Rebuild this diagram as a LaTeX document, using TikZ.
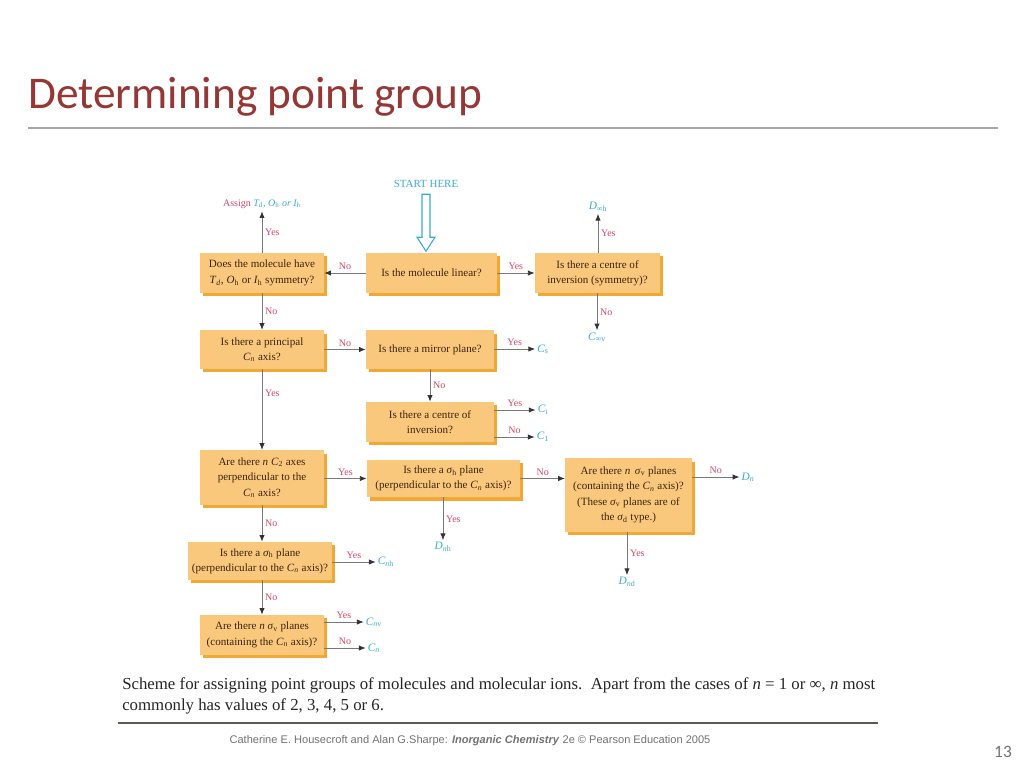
\documentclass[tikz,border=0pt]{standalone}
\usepackage{fontspec}
\setmainfont{Liberation Serif}
\newfontfamily\titlefont{Carlito}
\newfontfamily\footfont{Liberation Sans}
\usetikzlibrary{shapes.geometric, arrows.meta, shadows, positioning}

\definecolor{titlered}{RGB}{149,55,53}
\definecolor{rulegray}{RGB}{166,166,166}
\definecolor{boxfill}{RGB}{250,200,125}
\definecolor{boxedge}{RGB}{242,168,52}
\definecolor{boxtext}{RGB}{60,36,18}
\definecolor{answercol}{RGB}{214,72,104}
\definecolor{groupcol}{RGB}{58,172,212}
\definecolor{linecol}{RGB}{120,120,120}
\definecolor{captionline}{RGB}{88,92,78}

\newcommand{\pg}[2]{\textit{#1}\textsubscript{#2}}

\tikzstyle{box} = [rectangle, fill=boxfill, text=boxtext, align=center, inner sep=1pt, font=\fontsize{8.3}{11.5}\selectfont, general shadow={fill=boxedge, shadow xshift=2pt, shadow yshift=-2.5pt}]
\tikzstyle{answer} = [text=answercol, inner sep=2pt, font=\fontsize{7.5}{9}\selectfont]
\tikzstyle{group} = [text=groupcol, inner sep=1.5pt, font=\fontsize{8.5}{10}\selectfont\itshape]
\tikzstyle{arrow} = [draw=linecol, line width=0.6pt, -{Latex[length=5pt,width=4pt,color=black!80]}]
\tikzstyle{hollow} = [draw=groupcol, line width=0.8pt, fill=white]

\begin{document}
\begin{tikzpicture}[x=0.75pt, y=-0.75pt]
\useasboundingbox (0,0) rectangle (1024,768);
\fill [white] (0,0) rectangle (1024,768);

% title
\node (title) [anchor=base west, inner sep=0pt, text=titlered, font=\titlefont\fontsize{34}{40}\selectfont] at (28,108) {Determining point group};
\draw [rulegray, line width=1.1pt] (28,128) -- (998,128);

% questions
\node (doesTd) [box, minimum width=93pt, minimum height=30pt] at (262,273) {Does the molecule have\\\pg{T}{\textit{d}}, \pg{O}{h} or \pg{I}{h} symmetry?};
\node (linear) [box, minimum width=98pt, minimum height=30pt] at (431.5,273) {Is the molecule linear?};
\node (centreSym) [box, minimum width=94pt, minimum height=30pt] at (597.5,273) {Is there a centre of\\inversion (symmetry)?};
\node (principal) [box, minimum width=93pt, minimum height=29pt] at (262,349.5) {Is there a principal\\\pg{C}{\textit{n}} axis?};
\node (mirror) [box, minimum width=96pt, minimum height=29pt] at (430,349.5) {Is there a mirror plane?};
\node (centreInv) [box, minimum width=96pt, minimum height=30pt] at (430,422) {Is there a centre of\\inversion?};
\node (nCtwo) [box, minimum width=93pt, minimum height=41pt] at (262,477.5) {Are there \textit{n} \pg{C}{2} axes\\perpendicular to the\\\pg{C}{\textit{n}} axis?};
\node (sighA) [box, minimum width=115pt, minimum height=28pt] at (443.5,478.5) {Is there a \pg{σ}{h} plane\\(perpendicular to the \pg{C}{\textit{n}} axis)?};
\node (sigvD) [box, minimum width=95pt, minimum height=55pt] at (628.5,495) {Are there \textit{n}\, \pg{σ}{v} planes\\(containing the \pg{C}{\textit{n}} axis)?\\(These \pg{σ}{v} planes are of\\the \pg{σ}{d} type.)};
\node (sighB) [box, minimum width=108pt, minimum height=28.5pt] at (260,561) {Is there a \pg{σ}{h} plane\\(perpendicular to the \pg{C}{\textit{n}} axis)?};
\node (sigvB) [box, minimum width=93pt, minimum height=30pt] at (262,635) {Are there \textit{n} \pg{σ}{v} planes\\(containing the \pg{C}{\textit{n}} axis)?};

% start and results
\node (start) [text=groupcol, inner sep=1pt, font=\fontsize{8.2}{9}\selectfont] at (426,184) {START HERE};
\node (assign) [answer] at (262,204) {Assign \textcolor{groupcol}{\itshape \pg{T}{d}, \pg{O}{\upshape h} or \pg{I}{\upshape h}}};
\node (Dinfh) [group] at (598,207) {\pg{D}{\upshape ∞h}};
\node (Cinfv) [group] at (597,337) {\pg{C}{\upshape ∞v}};
\node (Cs) [group] at (543,349) {\pg{C}{\upshape s}};
\node (Ci) [group] at (543,410) {\pg{C}{\upshape i}};
\node (Cone) [group] at (543,437) {\pg{C}{\upshape 1}};
\node (Dnh) [group] at (443,547) {\pg{D}{n\upshape h}};
\node (Dn) [group] at (748,477) {\pg{D}{n}};
\node (Dnd) [group] at (627,582) {\pg{D}{n\upshape d}};
\node (Cnh) [group] at (386,562) {\pg{C}{n\upshape h}};
\node (Cnv) [group] at (374,622) {\pg{C}{n\upshape v}};
\node (Cn) [group] at (374,648) {\pg{C}{n}};

% connectors
\draw [hollow] (start.south) ++(-4,5) -- ++(0,43) -- ++(-5,0) -- ++(9,14) -- ++(9,-14) -- ++(-5,0) -- ++(0,-43) -- cycle;

\draw [arrow] (doesTd.north) -- (assign.south) node [answer, midway, right] {Yes};
\draw [arrow] (linear.west) -- (doesTd.east) node [answer, midway, above] {No};
\draw [arrow] (linear.east) -- (centreSym.west) node [answer, midway, above] {Yes};
\draw [arrow] (centreSym.north -| Dinfh) -- (Dinfh.south) node [answer, midway, right] {Yes};
\draw [arrow] (centreSym.south -| Cinfv) -- (Cinfv.north) node [answer, midway, right] {No};
\draw [arrow] (doesTd.south) -- (principal.north) node [answer, midway, right] {No};

\draw [arrow] (principal.east) -- (mirror.west) node [answer, midway, above] {No};
\draw [arrow] (mirror.east |- Cs) -- (Cs.west) node [answer, midway, above] {Yes};
\draw [arrow] (mirror.south) -- (centreInv.north) node [answer, midway, right] {No};
\draw [arrow] (centreInv.east |- Ci) -- (Ci.west) node [answer, midway, above] {Yes};
\draw [arrow] (centreInv.east |- Cone) -- (Cone.west) node [answer, midway, above] {No};

\draw [arrow] (principal.south) -- (nCtwo.north) node [answer, pos=0.3, right] {Yes};
\draw [arrow] (nCtwo.east |- sighA) -- (sighA.west) node [answer, midway, above] {Yes};
\draw [arrow] (sighA.south -| Dnh) -- (Dnh.north) node [answer, midway, right] {Yes};
\draw [arrow] (sighA.east) -- (sighA.east -| sigvD.west) node [answer, midway, above] {No};
\draw [arrow] (sigvD.east |- Dn) -- (Dn.west) node [answer, midway, above] {No};
\draw [arrow] (sigvD.south -| Dnd) -- (Dnd.north) node [answer, midway, right] {Yes};

\draw [arrow] (nCtwo.south) -- (nCtwo.south |- sighB.north) node [answer, midway, right] {No};
\draw [arrow] (sighB.east |- Cnh) -- (Cnh.west) node [answer, midway, above] {Yes};
\draw [arrow] (sighB.south -| sigvB) -- (sigvB.north) node [answer, midway, right] {No};
\draw [arrow] (sigvB.east |- Cnv) -- (Cnv.west) node [answer, midway, above] {Yes};
\draw [arrow] (sigvB.east |- Cn) -- (Cn.west) node [answer, midway, above] {No};

% caption and credits
\node (caption1) [anchor=base west, inner sep=0pt, text=black!85, font=\fontsize{12.6}{15}\selectfont] at (122,689) {Scheme for assigning point groups of molecules and molecular ions.\ \ Apart from the cases of \textit{n} = 1 or ∞, \textit{n} most};
\node (caption2) [anchor=base west, inner sep=0pt, text=black!85, font=\fontsize{12.6}{15}\selectfont] at (122,710) {commonly has values of 2, 3, 4, 5 or 6.};
\draw [captionline, line width=1.6pt] (118,723) -- (878,723);
\node (credit) [text=black!55, font=\footfont\fontsize{8.3}{9}\selectfont] at (470,741) {Catherine E. Housecroft and Alan G.Sharpe: \textbf{\textit{Inorganic Chemistry}} 2e © Pearson Education 2005};
\node (pagenum) [text=black!55, font=\titlefont\fontsize{13}{15}\selectfont] at (1003,752) {13};

\end{tikzpicture}
\end{document}
